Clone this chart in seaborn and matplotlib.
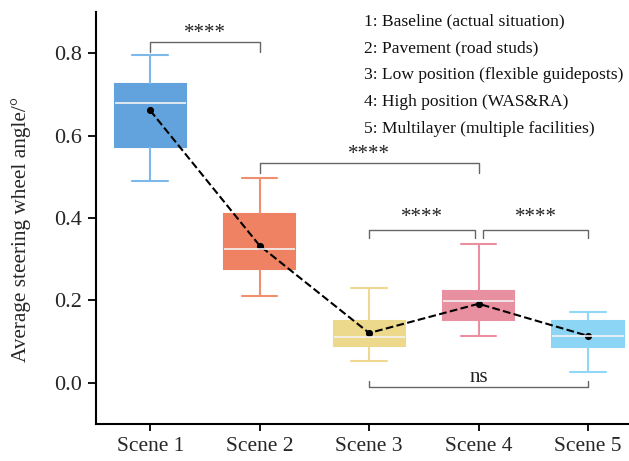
import pandas as pd
import numpy as np
import matplotlib
matplotlib.use('Agg')
import matplotlib.pyplot as plt
import seaborn as sns

# --- datos ---
escenas = ['Scene 1', 'Scene 2', 'Scene 3', 'Scene 4', 'Scene 5']
bigote_inf = [0.490, 0.212, 0.052, 0.115, 0.027]
q1 = [0.572, 0.276, 0.090, 0.153, 0.088]
mediana = [0.680, 0.326, 0.112, 0.199, 0.115]
q3 = [0.725, 0.409, 0.151, 0.223, 0.149]
bigote_sup = [0.795, 0.498, 0.231, 0.337, 0.171]
medias = [0.661, 0.333, 0.121, 0.192, 0.114]

colores_caja = ['#62A3DD', '#EF8262', '#EDD98B', '#E8909F', '#8DD5F5']
colores_linea = ['#7DB8EA', '#F08E70', '#EFD98E', '#E98FA0', '#92D8F6']

leyenda = ['1: Baseline (actual situation)',
           '2: Pavement (road studs)',
           '3: Low position (flexible guideposts)',
           '4: High position (WAS&RA)',
           '5: Multilayer (multiple facilities)']

# tabla larga: con 5 valores por escena los percentiles coinciden con q1/mediana/q3
filas = []
for i, s in enumerate(escenas):
    for v in [bigote_inf[i], q1[i], mediana[i], q3[i], bigote_sup[i]]:
        filas.append({'escena': s, 'valor': v})
df = pd.DataFrame(filas)

sns.set_style('ticks')
plt.rcParams['font.family'] = ['Liberation Serif', 'DejaVu Serif']

fig = plt.figure(figsize=(6.29, 4.61), dpi=100)
ax = fig.add_axes([0.153, 0.080, 0.847, 0.894])

for i, s in enumerate(escenas):
    sns.boxplot(data=df[df['escena'] == s], x='escena', y='valor', order=escenas,
                color=colores_caja[i], linecolor=colores_linea[i], linewidth=1.5,
                width=0.65, whis=(0, 100), fill=True, saturation=1,
                medianprops={'color': '#F4F4F4', 'linewidth': 1.2},
                boxprops={'edgecolor': colores_caja[i]}, ax=ax)

sns.pointplot(x=escenas, y=medias, order=escenas, color='black', linestyles='--',
              markers='o', markersize=4, linewidth=1.5, ax=ax)
for ln in ax.lines[-1:]:
    ln.set_zorder(5)
for col in ax.collections:
    col.set_zorder(6)

# corchetes de significancia
def corchete(x1, x2, y, h, texto, ty):
    ax.plot([x1, x1, x2, x2], [y - h, y, y, y - h], color='#666666', lw=1, zorder=3)
    ax.text((x1 + x2) / 2, ty, texto, ha='center', va='center', fontsize=15, color='#222222')

corchete(0, 1, 0.828, 0.024, '****', 0.848)
corchete(1, 3, 0.533, 0.024, '****', 0.555)
corchete(2, 2.97, 0.372, 0.021, '****', 0.402)
corchete(3.04, 4, 0.372, 0.021, '****', 0.402)
corchete(2, 4, -0.011, -0.016, 'ns', 0.012)

# leyenda de texto
for k, t in enumerate(leyenda):
    ax.text(1.955, 0.877 - k * 0.0655, t, ha='left', va='center', fontsize=12.6, color='#111111')

ax.set_xlim(-0.493, 4.374)
ax.set_ylim(-0.1, 0.9)
ax.set_yticks([0.0, 0.2, 0.4, 0.6, 0.8])
ax.set_yticklabels(['0.0', '0.2', '0.4', '0.6', '0.8'])
ax.set_xlabel('')
ax.set_ylabel('Average steering wheel angle/°', fontsize=15.3)
ax.yaxis.set_label_coords(-0.122, 0.473)
ax.tick_params(axis='x', labelsize=15.5, length=5, pad=4)
ax.tick_params(axis='y', labelsize=16, length=6, pad=4)
ax.tick_params(axis='both', width=1.3, direction='out', color='black')
for lado in ['top', 'right']:
    ax.spines[lado].set_visible(False)
for lado in ['left', 'bottom']:
    ax.spines[lado].set_linewidth(1.5)
    ax.spines[lado].set_color('black')

fig.savefig('out.png', dpi=100)
